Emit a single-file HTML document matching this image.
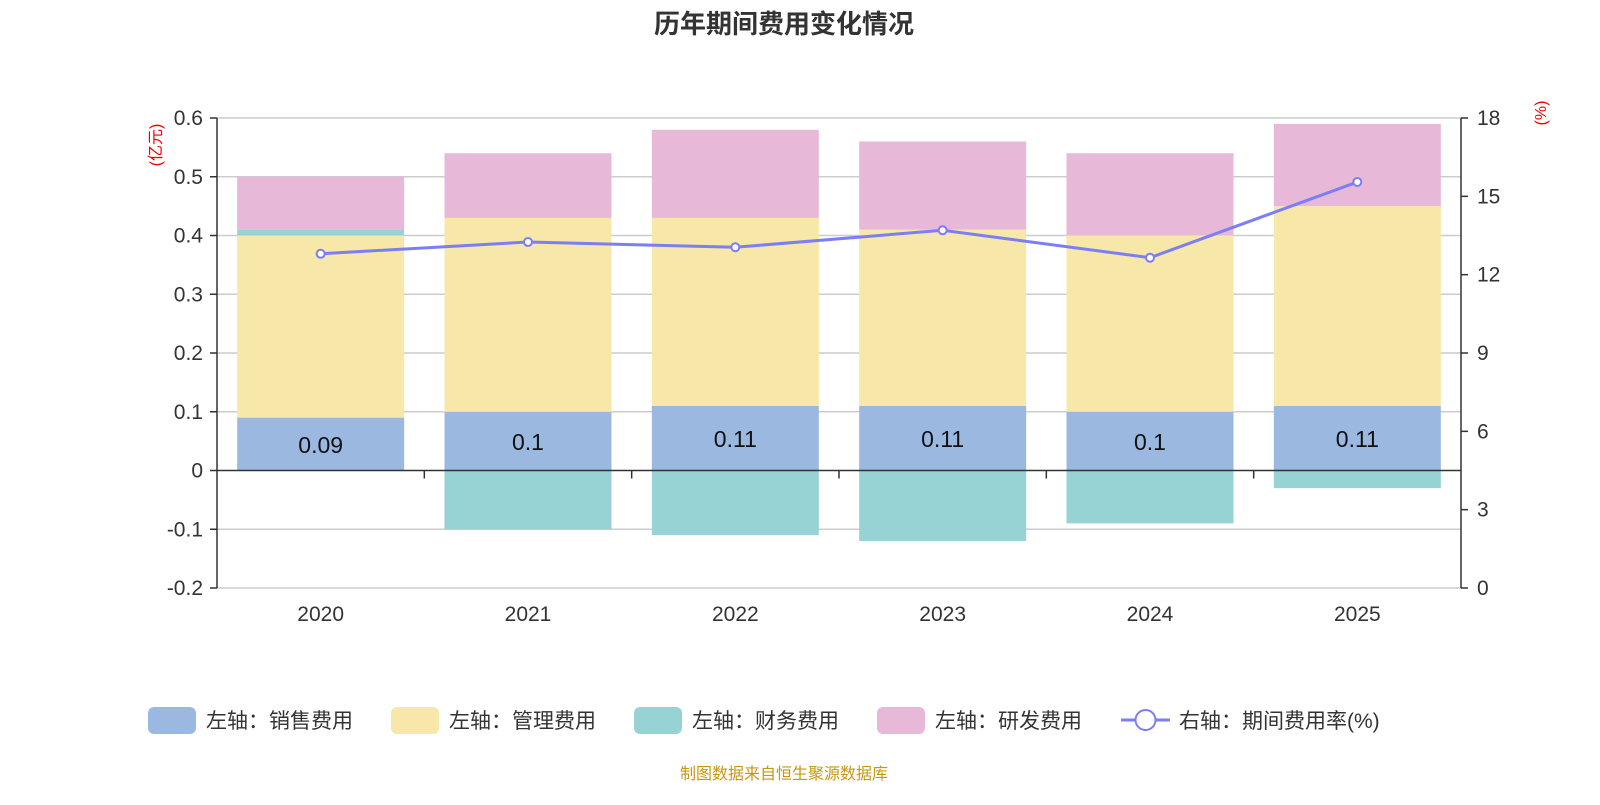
<!DOCTYPE html>
<html><head><meta charset="utf-8">
<style>
html,body{margin:0;padding:0;background:#fff;}
body{width:1600px;height:800px;overflow:hidden;font-family:"Liberation Sans","Noto Sans CJK SC",sans-serif;}
</style></head>
<body>
<svg id="chart" width="1600" height="800" xmlns="http://www.w3.org/2000/svg" style="font-family:'Liberation Sans','Noto Sans CJK SC',sans-serif">
<text x="784" y="33" text-anchor="middle" font-size="26" font-weight="bold" fill="#333">历年期间费用变化情况</text>
<text transform="translate(161,145) rotate(-90)" text-anchor="middle" font-size="16" fill="#e00">(亿元)</text>
<text transform="translate(1546,113) rotate(-90)" text-anchor="middle" font-size="16" fill="#e00">(%)</text>
<g id="grid"></g><g id="bars"></g><g id="axes"></g><g id="line"></g>
<g font-size="21" fill="#333">
<rect x="148" y="707" width="48" height="27" rx="6" fill="#9bb8e1"/>
<text x="206" y="728">左轴：销售费用</text>
<rect x="391" y="707" width="48" height="27" rx="6" fill="#f7e7a8"/>
<text x="449" y="728">左轴：管理费用</text>
<rect x="634" y="707" width="48" height="27" rx="6" fill="#97d3d4"/>
<text x="692" y="728">左轴：财务费用</text>
<rect x="877" y="707" width="48" height="27" rx="6" fill="#e8b8d9"/>
<text x="935" y="728">左轴：研发费用</text>
<line x1="1121" y1="720" x2="1170" y2="720" stroke="#7b7ef5" stroke-width="3"/>
<circle cx="1145.5" cy="720" r="10" fill="#fff" stroke="#7b7ef5" stroke-width="2"/>
<text x="1179" y="728">右轴：期间费用率(%)</text>
</g>
<text x="784" y="779" text-anchor="middle" font-size="16" fill="#c8960f">制图数据来自恒生聚源数据库</text>
</svg>
<script>
const categories=["2020","2021","2022","2023","2024","2025"];
const sales=[0.09,0.10,0.11,0.11,0.10,0.11];
const admin=[0.31,0.33,0.32,0.30,0.30,0.34];
const finance=[0.01,-0.10,-0.11,-0.12,-0.09,-0.03];
const rd=[0.09,0.11,0.15,0.15,0.14,0.14];
const rate=[12.8,13.25,13.05,13.7,12.65,15.55];
const leftTicks=[-0.2,-0.1,0,0.1,0.2,0.3,0.4,0.5,0.6];
const rightTicks=[0,3,6,9,12,15,18];
const NS="http://www.w3.org/2000/svg";
const L=217,R=1461,T=118,B=588;
const yL=v=>B-(v+0.2)/0.8*(B-T);
const yR=v=>B-v/18*(B-T);
const step=(R-L)/categories.length;
const xC=i=>L+step*(i+0.5);
const bw=167;
function mk(tag,attrs,parent){const e=document.createElementNS(NS,tag);for(const k in attrs)e.setAttribute(k,attrs[k]);parent.appendChild(e);return e;}
const grid=document.getElementById('grid'),bars=document.getElementById('bars'),axes=document.getElementById('axes'),line=document.getElementById('line');
leftTicks.forEach(t=>{
  const y=yL(t);
  if(t!==0){const g=mk('line',{x1:L,x2:R,y1:y,y2:y,stroke:'#ccc','stroke-width':1.5},grid);
  
  }
  const tk=mk('line',{x1:L-7,x2:L,y1:y,y2:y,stroke:'#333','stroke-width':1.5},axes);
  
  
  const tx=mk('text',{x:L-14,y:y+7,'text-anchor':'end','font-size':21,fill:'#333'},axes);tx.textContent=(t===0?'0':String(t));
  
  
});
rightTicks.forEach(t=>{
  const y=yR(t);
  const tk=mk('line',{x1:R,x2:R+7,y1:y,y2:y,stroke:'#333','stroke-width':1.5},axes);
  
  
  const tx=mk('text',{x:R+16,y:y+7,'font-size':21,fill:'#333'},axes);tx.textContent=String(t);
  
  
});
const colors=['#9bb8e1','#f7e7a8','#97d3d4','#e8b8d9'];
const names=['bar-sales','bar-admin','bar-finance','bar-rd'];
categories.forEach((c,i)=>{
  let pos=0,neg=0;
  [sales,admin,finance,rd].forEach((s,k)=>{
    const v=s[i];let y0,y1;
    if(v>=0){y0=pos;y1=pos+v;pos=y1;}else{y0=neg;y1=neg+v;neg=y1;}
    const top=yL(Math.max(y0,y1)),bot=yL(Math.min(y0,y1));
    const r=mk('rect',{x:xC(i)-bw/2,y:top,width:bw,height:bot-top,fill:colors[k]},bars);
    
    
  });
  const lb=mk('text',{x:xC(i),y:(yL(0)+yL(sales[i]))/2+9,'text-anchor':'middle','font-size':23,fill:'#111'},bars);
  lb.textContent=String(sales[i]);
  
  
  const xt=mk('text',{x:xC(i),y:621,'text-anchor':'middle','font-size':21,fill:'#333'},axes);xt.textContent=c;
  
  
  if(i>0){const tk=mk('line',{x1:L+step*i,x2:L+step*i,y1:yL(0),y2:yL(0)+8,stroke:'#333','stroke-width':1.5},axes);
  
  }
});
const za=mk('line',{x1:L,x2:R,y1:yL(0),y2:yL(0),stroke:'#333','stroke-width':1.5},axes);


const la=mk('line',{x1:L,x2:L,y1:T,y2:B,stroke:'#333','stroke-width':1.5},axes);


const ra=mk('line',{x1:R,x2:R,y1:T,y2:B,stroke:'#333','stroke-width':1.5},axes);


const pl=mk('polyline',{points:rate.map((v,i)=>xC(i)+','+yR(v)).join(' '),fill:'none',stroke:'#7b7ef5','stroke-width':3},line);


rate.forEach((v,i)=>{
  const c=mk('circle',{cx:xC(i),cy:yR(v),r:4,fill:'#fff',stroke:'#7b7ef5','stroke-width':2},line);
  
  
});
</script>
</body></html>
